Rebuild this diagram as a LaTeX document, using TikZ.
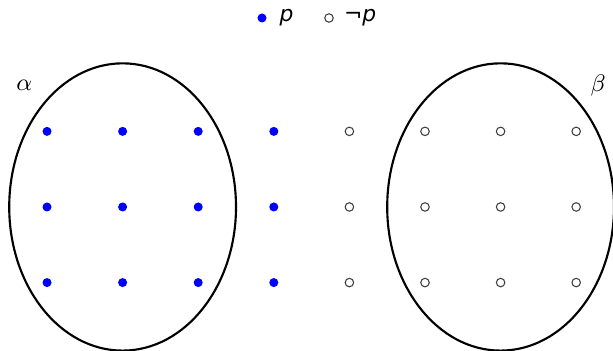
\documentclass[tikz,border=0pt]{standalone}
\usepackage{fontspec}
\newfontfamily\keyfont{DejaVu Sans}
\usepackage{tikz}
\usetikzlibrary{positioning}

\begin{document}
\begin{tikzpicture}[
  pdot/.style  = {circle, fill=blue, inner sep=0pt, minimum size=3.4pt},
  npdot/.style = {circle, draw=black!75, line width=0.4pt, fill=white,
                  inner sep=0pt, minimum size=3.2pt},
  world/.style = {draw, line width=0.8pt},
  keytext/.style = {font=\keyfont\fontsize{8.2}{10}\selectfont\itshape,
                    inner sep=0pt},
  setname/.style = {font=\fontsize{9}{11}\selectfont},
]
\useasboundingbox (-0.622,-1.905) rectangle (7.487,2.738);

% legend
\node[pdot] (keyp) at (2.844,2.5) {};
\node[keytext, right=0.16cm of keyp] (keyptxt) {p};
\node[npdot] (keynp) at (3.730,2.5) {};
\node[keytext, right=0.13cm of keynp] (keynptxt) {\upshape¬\itshape p};

% worlds
\foreach \i in {0,...,3}
  \foreach \j in {-1,0,1}
    \node[pdot] (w-\i-\j) at (\i,\j) {};
\foreach \i in {4,...,7}
  \foreach \j in {-1,0,1}
    \node[npdot] (w-\i-\j) at (\i,\j) {};

% the two sets
\draw[world] (1,0) ellipse (1.5 and 1.9);
\draw[world] (6,0) ellipse (1.5 and 1.9);
\node[setname] (alpha) at (-0.30,1.61) {$\alpha$};
\node[setname] (beta)  at (7.29,1.61) {$\beta$};

\end{tikzpicture}
\end{document}
